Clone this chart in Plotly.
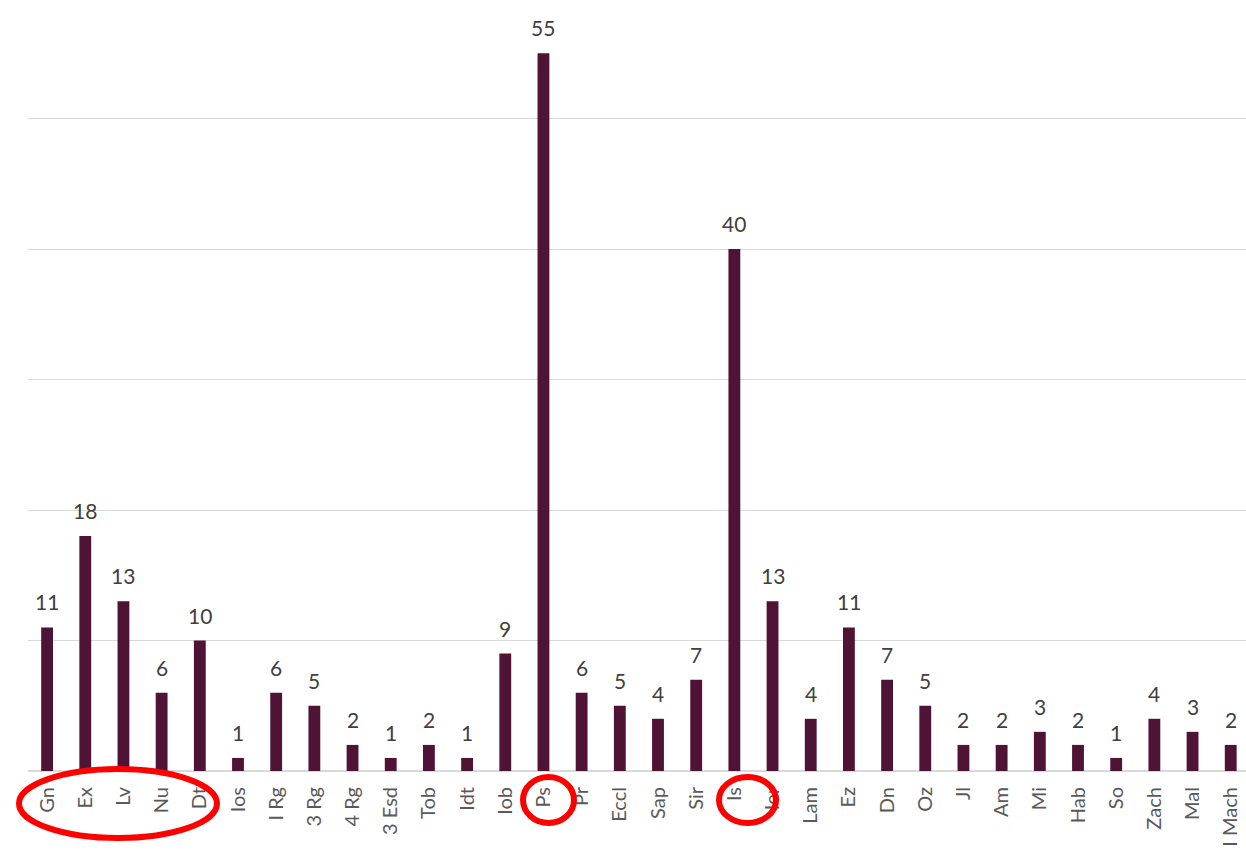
import plotly.graph_objects as go

books = ["Gn", "Ex", "Lv", "Nu", "Dt", "Ios", "I Rg", "3 Rg", "4 Rg", "3 Esd",
         "Tob", "Idt", "Iob", "Ps", "Pr", "Eccl", "Sap", "Sir", "Is", "Ier",
         "Lam", "Ez", "Dn", "Oz", "Jl", "Am", "Mi", "Hab", "So", "Zach",
         "Mal", "I Mach"]
counts = [11, 18, 13, 6, 10, 1, 6, 5, 2, 1,
          2, 1, 9, 55, 6, 5, 4, 7, 40, 13,
          4, 11, 7, 5, 2, 2, 3, 2, 1, 4,
          3, 2]

W, H = 1246, 855
L, R, T, B = 28, 0, 0, 84
PW, PH = W - L - R, H - T - B
FONT = "Lato, sans-serif"


def px_x(x):
    return (x - L) / PW


def px_y(y):
    return (H - B - y) / PH


xs = list(range(len(books)))

fig = go.Figure(go.Bar(
    x=xs,
    y=counts,
    width=0.31,
    marker=dict(color="#4f1335", line=dict(width=0)),
    hoverinfo="x+y",
))

# value labels above each bar
annotations = [
    dict(x=i, y=v, xref="x", yref="y", text=str(v), showarrow=False,
         yanchor="bottom", yshift=11,
         font=dict(family=FONT, size=21, color="#404040"))
    for i, v in zip(xs, counts)
]

# highlight rings around selected book labels
rings = [(19, 769, 217, 838), (523, 777, 574, 823), (719, 777, 776, 823)]
shapes = []
for x0, y0, x1, y1 in rings:
    shapes.append(dict(
        type="circle", xref="paper", yref="paper",
        x0=px_x(x0), x1=px_x(x1), y0=px_y(y1), y1=px_y(y0),
        line=dict(color="#ff0000", width=6),
        fillcolor="rgba(0,0,0,0)", layer="above",
    ))

fig.update_layout(
    width=W, height=H,
    margin=dict(l=L, r=R, t=T, b=B, pad=0),
    plot_bgcolor="white", paper_bgcolor="white",
    showlegend=False,
    shapes=shapes,
    annotations=annotations,
    xaxis=dict(
        tickmode="array", tickvals=xs, ticktext=books,
        tickangle=-90, range=[-0.5, 31.4], ticklabelstandoff=11,
        tickfont=dict(family=FONT, size=20, color="#595959"),
        showgrid=False, showline=False, zeroline=False, ticks="",
    ),
    yaxis=dict(
        range=[0, 59.08], dtick=10, showticklabels=False,
        showgrid=True, gridcolor="#d9d9d9", gridwidth=1.3,
        zeroline=True, zerolinecolor="#d9d9d9", zerolinewidth=1.5,
        showline=False, ticks="",
    ),
)

fig.write_html("out.html")
